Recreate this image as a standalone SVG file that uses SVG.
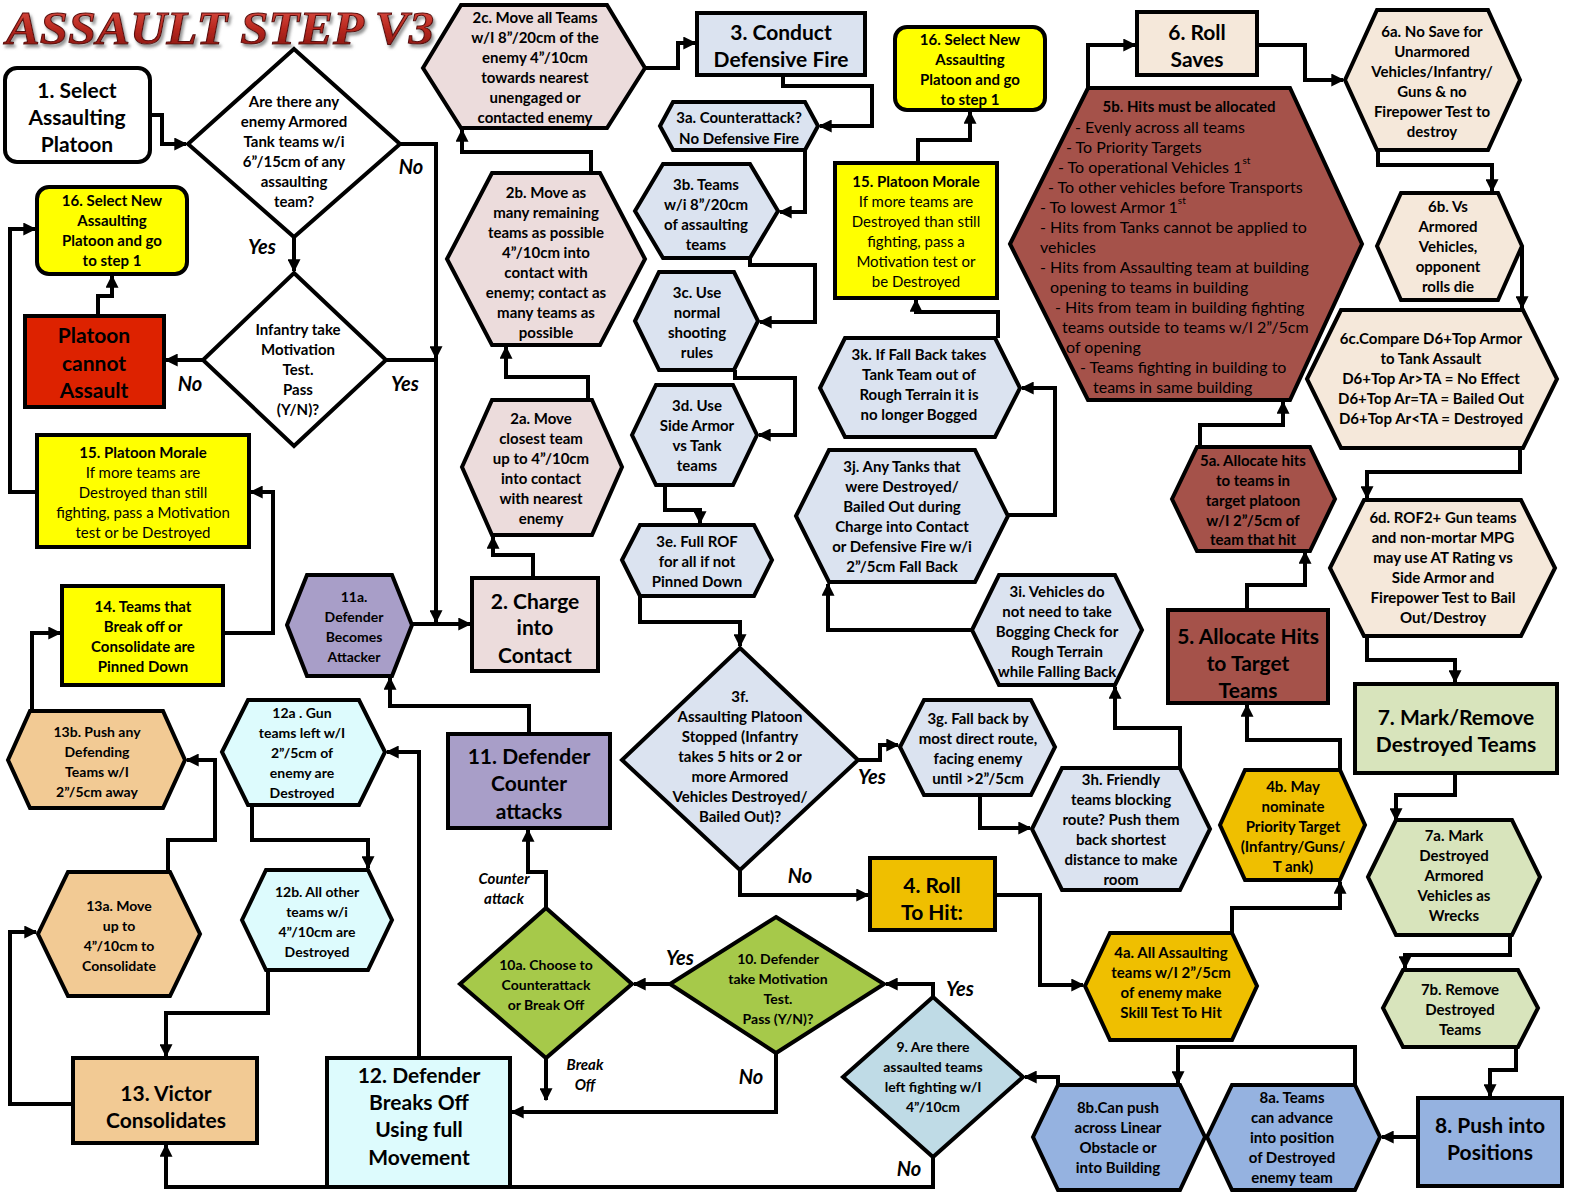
<svg xmlns="http://www.w3.org/2000/svg" width="1575" height="1200" viewBox="0 0 1575 1200">
<defs>
<marker id="a" viewBox="0 0 10 10" refX="9" refY="5" markerWidth="13" markerHeight="13" markerUnits="userSpaceOnUse" orient="auto"><path d="M0,0 L10,5 L0,10 z" fill="#000"/></marker>
<linearGradient id="tg" x1="0" y1="0" x2="0" y2="1"><stop offset="0" stop-color="#e0554a"/><stop offset="0.5" stop-color="#b8281f"/><stop offset="1" stop-color="#7e130e"/></linearGradient>
<filter id="sh" x="-5%" y="-20%" width="110%" height="150%"><feDropShadow dx="2" dy="3" stdDeviation="1.5" flood-color="#777" flood-opacity="0.8"/></filter>
<style>
.s{stroke:#000;stroke-width:4;stroke-linejoin:miter}
.w{fill:#fff}.y{fill:#ffff00}.rd{fill:#dd2200}.ro{fill:#ecdcdc}.bl{fill:#dbe3f0}
.br{fill:#a5524a}.be{fill:#f5e8da}.gr{fill:#d8e4bc}.pb{fill:#95b2e0}.go{fill:#efbf00}
.lb{fill:#bfdbe6}.ga{fill:#a6c94a}.cy{fill:#ddfbfd}.pu{fill:#a89ec8}.or{fill:#f2ca94}
text{font-family:Lato,"Liberation Sans",sans-serif;font-weight:700;font-size:15px;text-anchor:middle;dominant-baseline:central;fill:#000}
text.b{font-size:21px}
text.sm{font-size:14px}
text.l{font-style:italic;font-size:20px}
text.li{font-style:italic;font-size:15px}
.r{font-weight:400}
text.p{font-weight:400;font-size:16px;text-anchor:start}
text.ttl{font-family:"Liberation Serif",serif;font-style:italic;font-weight:700;font-size:46px;text-anchor:start;dominant-baseline:alphabetic;fill:url(#tg);stroke:#5a0d0a;stroke-width:1}
.c{fill:none;stroke:#000;stroke-width:4;marker-end:url(#a)}
</style>
</defs>
<rect width="1575" height="1200" fill="#fff"/>
<text class="ttl" x="6" y="44" textLength="428" lengthAdjust="spacingAndGlyphs" filter="url(#sh)">ASSAULT STEP V3</text>

<g id="connectors">
<path class="c" d="M150,115 H162 V144 H186"/>
<path class="c" d="M400,144 H436 V358"/>
<path class="c" d="M386,360 H436 V622"/>
<path class="c" d="M294,237 V271"/>
<path class="c" d="M203,360 H166"/>
<path class="c" d="M98,316 V296 H112 V276"/>
<path class="c" d="M37,492 H10 V229 H35"/>
<path class="c" d="M223,633 H273 V492 H251"/>
<path class="c" d="M32,711 V633 H60"/>
<path class="c" d="M168,872 V840 H215 V760 H187"/>
<path class="c" d="M73,1104 H10 V932 H36"/>
<path class="c" d="M933,1157 V1187 H166 V1145"/>
<path class="c" d="M268,970 V1013 H166 V1056"/>
<path class="c" d="M252,805 V840 H368 V868"/>
<path class="c" d="M419,1058 V752 H387"/>
<path class="c" d="M412,624 H470"/>
<path class="c" d="M529,734 V706 H390 V678"/>
<path class="c" d="M546,908 V872 H528 V830"/>
<path class="c" d="M546,1058 V1100"/>
<path class="c" d="M776,1053 V1112 H512"/>
<path class="c" d="M670,984 H634"/>
<path class="c" d="M933,997 V984 H886"/>
<path class="c" d="M1058,1085 V1077 H1025"/>
<path class="c" d="M1355,1085 V1047 H1178 V1083"/>
<path class="c" d="M1418,1137 H1382"/>
<path class="c" d="M1516,1047 V1070 H1490 V1096"/>
<path class="c" d="M1510,935 V955 H1405 V968"/>
<path class="c" d="M1455,773 V795 H1396 V820"/>
<path class="c" d="M1367,636 V660 H1455 V682"/>
<path class="c" d="M1520,448 V472 H1367 V498"/>
<path class="c" d="M1522,246 V308"/>
<path class="c" d="M1378,150 V165 H1492 V191"/>
<path class="c" d="M1257,45 H1305 V80 H1343"/>
<path class="c" d="M1088,88 V45 H1135"/>
<path class="c" d="M1200,447 V425 H1283 V402"/>
<path class="c" d="M1247,610 V585 H1305 V552"/>
<path class="c" d="M1340,770 V740 H1247 V705"/>
<path class="c" d="M1232,933 V908 H1340 V882"/>
<path class="c" d="M995,895 H1040 V985 H1083"/>
<path class="c" d="M740,870 V895 H868"/>
<path class="c" d="M858,760 H880 V745 H898"/>
<path class="c" d="M980,795 V828 H1030"/>
<path class="c" d="M1180,768 V728 H1115 V687"/>
<path class="c" d="M972,630 H828 V584"/>
<path class="c" d="M1008,515 H1055 V388 H1022"/>
<path class="c" d="M998,338 V312 H916 V300"/>
<path class="c" d="M918,163 V140 H970 V112"/>
<path class="c" d="M640,596 V622 H740 V646"/>
<path class="c" d="M665,485 V510 H700 V523"/>
<path class="c" d="M735,370 V378 H795 V435 H759"/>
<path class="c" d="M750,258 V265 H815 V322 H760"/>
<path class="c" d="M805,150 V212 H780"/>
<path class="c" d="M783,75 V86 H872 V126 H820"/>
<path class="c" d="M645,68 H678 V43 H695"/>
<path class="c" d="M591,173 V152 H462 V130"/>
<path class="c" d="M588,400 V377 H506 V347"/>
<path class="c" d="M533,578 V555 H493 V537"/>
</g>

<g id="labels">
<text class="l" x="411" y="166">No</text>
<text class="l" x="262" y="246">Yes</text>
<text class="l" x="190" y="383">No</text>
<text class="l" x="405" y="383">Yes</text>
<text class="l" x="872" y="776">Yes</text>
<text class="l" x="800" y="875">No</text>
<text class="l" x="680" y="957">Yes</text>
<text class="l" x="751" y="1076">No</text>
<text class="l" x="960" y="988">Yes</text>
<text class="l" x="909" y="1168">No</text>
<text class="li" x="504" y="878"><tspan x="504" y="878">Counter</tspan><tspan x="504" y="898">attack</tspan></text>
<text class="li" x="585" y="1064"><tspan x="585" y="1064">Break</tspan><tspan x="585" y="1084">Off</tspan></text>
</g>

<g id="n1"><rect class="s w" x="5" y="68" width="145" height="94" rx="12"/>
<text class="b"><tspan x="77" y="89">1. Select</tspan><tspan x="77" y="116">Assaulting</tspan><tspan x="77" y="143">Platoon</tspan></text></g>

<g id="d1"><polygon class="s w" points="294,49 400,144 294,237 188,144"/>
<text><tspan x="294" y="101">Are there any</tspan><tspan x="294" y="121">enemy Armored</tspan><tspan x="294" y="141">Tank teams w/i</tspan><tspan x="294" y="161">6”/15cm of any</tspan><tspan x="294" y="181">assaulting</tspan><tspan x="294" y="201">team?</tspan></text></g>

<g id="n16a"><rect class="s y" x="37" y="187" width="150" height="87" rx="12"/>
<text><tspan x="112" y="200">16. Select New</tspan><tspan x="112" y="220">Assaulting</tspan><tspan x="112" y="240">Platoon and go</tspan><tspan x="112" y="260">to step 1</tspan></text></g>

<g id="d2"><polygon class="s w" points="294,273 386,360 294,446 203,360"/>
<text><tspan x="298" y="329">Infantry take</tspan><tspan x="298" y="349">Motivation</tspan><tspan x="298" y="369">Test.</tspan><tspan x="298" y="389">Pass</tspan><tspan x="298" y="409">(Y/N)?</tspan></text></g>

<g id="nPCA"><rect class="s rd" x="25" y="316" width="139" height="91"/>
<text class="b"><tspan x="94" y="334">Platoon</tspan><tspan x="94" y="362">cannot</tspan><tspan x="94" y="389">Assault</tspan></text></g>

<g id="n15a"><rect class="s y" x="37" y="435" width="212" height="112"/>
<text><tspan x="143" y="452">15. Platoon Morale</tspan><tspan class="r" x="143" y="472">If more teams are</tspan><tspan class="r" x="143" y="492">Destroyed than still</tspan><tspan class="r" x="143" y="512">fighting, pass a Motivation</tspan><tspan class="r" x="143" y="532">test or be Destroyed</tspan></text></g>

<g id="n14"><rect class="s y" x="62" y="586" width="161" height="99"/>
<text><tspan x="143" y="606">14. Teams that</tspan><tspan x="143" y="626">Break off or</tspan><tspan x="143" y="646">Consolidate  are</tspan><tspan x="143" y="666">Pinned Down</tspan></text></g>

<g id="n13b"><polygon class="s or" points="8,760 30,711 163,711 185,760 163,808 30,808"/>
<text class="sm"><tspan x="97" y="731">13b. Push any</tspan><tspan x="97" y="751">Defending</tspan><tspan x="97" y="771">Teams w/I</tspan><tspan x="97" y="791">2”/5cm away</tspan></text></g>

<g id="n13a"><polygon class="s or" points="38,934 68,872 170,872 200,934 170,996 68,996"/>
<text class="sm"><tspan x="119" y="905">13a. Move</tspan><tspan x="119" y="925">up to</tspan><tspan x="119" y="945">4”/10cm to</tspan><tspan x="119" y="965">Consolidate</tspan></text></g>

<g id="n13"><rect class="s or" x="73" y="1058" width="184" height="85"/>
<text class="b"><tspan x="166" y="1092">13. Victor</tspan><tspan x="166" y="1119">Consolidates</tspan></text></g>

<g id="n12a"><polygon class="s cy" points="222,752 248,700 359,700 385,752 359,805 248,805"/>
<text class="sm"><tspan x="302" y="712">12a . Gun</tspan><tspan x="302" y="732">teams left w/I</tspan><tspan x="302" y="752">2”/5cm of</tspan><tspan x="302" y="772">enemy are</tspan><tspan x="302" y="792">Destroyed</tspan></text></g>

<g id="n12b"><polygon class="s cy" points="242,920 266,870 368,870 392,920 368,970 266,970"/>
<text class="sm"><tspan x="317" y="891">12b. All other</tspan><tspan x="317" y="911">teams w/i</tspan><tspan x="317" y="931">4”/10cm are</tspan><tspan x="317" y="951">Destroyed</tspan></text></g>

<g id="n12"><rect class="s cy" x="327" y="1058" width="183" height="129"/>
<text class="b"><tspan x="419" y="1074">12. Defender</tspan><tspan x="419" y="1101">Breaks Off</tspan><tspan x="419" y="1128">Using full</tspan><tspan x="419" y="1156">Movement</tspan></text></g>

<g id="n11a"><polygon class="s pu" points="287,625 307,575 392,575 412,625 392,676 307,676"/>
<text class="sm"><tspan x="354" y="596">11a.</tspan><tspan x="354" y="616">Defender</tspan><tspan x="354" y="636">Becomes</tspan><tspan x="354" y="656">Attacker</tspan></text></g>

<g id="n11"><rect class="s pu" x="448" y="734" width="162" height="94"/>
<text class="b"><tspan x="529" y="755">11. Defender</tspan><tspan x="529" y="782">Counter</tspan><tspan x="529" y="810">attacks</tspan></text></g>

<g id="d10a"><polygon class="s ga" points="546,908 632,984 546,1058 460,984"/>
<text class="sm"><tspan x="546" y="964">10a. Choose to</tspan><tspan x="546" y="984">Counterattack</tspan><tspan x="546" y="1004">or Break Off</tspan></text></g>

<g id="d10"><polygon class="s ga" points="776,917 884,984 776,1053 670,984"/>
<text class="sm"><tspan x="778" y="958">10. Defender</tspan><tspan x="778" y="978">take Motivation</tspan><tspan x="778" y="998">Test.</tspan><tspan x="778" y="1018">Pass (Y/N)?</tspan></text></g>

<g id="d9"><polygon class="s lb" points="933,997 1023,1077 933,1157 843,1077"/>
<text class="sm"><tspan x="933" y="1046">9. Are there</tspan><tspan x="933" y="1066">assaulted teams</tspan><tspan x="933" y="1086">left fighting w/I</tspan><tspan x="933" y="1106">4”/10cm</tspan></text></g>

<g id="n8b"><polygon class="s pb" points="1033,1137 1058,1085 1180,1085 1205,1137 1180,1190 1058,1190"/>
<text><tspan x="1118" y="1107">8b.Can push</tspan><tspan x="1118" y="1127">across Linear</tspan><tspan x="1118" y="1147">Obstacle or</tspan><tspan x="1118" y="1167">into Building</tspan></text></g>

<g id="n8a"><polygon class="s pb" points="1207,1137 1232,1085 1355,1085 1380,1137 1355,1190 1232,1190"/>
<text><tspan x="1292" y="1097">8a.  Teams</tspan><tspan x="1292" y="1117">can advance</tspan><tspan x="1292" y="1137">into position</tspan><tspan x="1292" y="1157">of Destroyed</tspan><tspan x="1292" y="1177">enemy team</tspan></text></g>

<g id="n8"><rect class="s pb" x="1418" y="1098" width="144" height="88"/>
<text class="b"><tspan x="1490" y="1124">8. Push into</tspan><tspan x="1490" y="1151">Positions</tspan></text></g>

<g id="n7b"><polygon class="s gr" points="1383,1008 1403,970 1518,970 1538,1008 1518,1047 1403,1047"/>
<text><tspan x="1460" y="989">7b. Remove</tspan><tspan x="1460" y="1009">Destroyed</tspan><tspan x="1460" y="1029">Teams</tspan></text></g>

<g id="n7a"><polygon class="s gr" points="1368,877 1396,820 1512,820 1540,877 1512,935 1396,935"/>
<text><tspan x="1454" y="835">7a. Mark</tspan><tspan x="1454" y="855">Destroyed</tspan><tspan x="1454" y="875">Armored</tspan><tspan x="1454" y="895">Vehicles as</tspan><tspan x="1454" y="915">Wrecks</tspan></text></g>

<g id="n7"><rect class="s gr" x="1355" y="684" width="202" height="89"/>
<text class="b"><tspan x="1456" y="716">7. Mark/Remove</tspan><tspan x="1456" y="743">Destroyed Teams</tspan></text></g>

<g id="n6d"><polygon class="s be" points="1330,568 1364,500 1521,500 1555,568 1521,636 1364,636"/>
<text><tspan x="1443" y="517">6d. ROF2+ Gun teams</tspan><tspan x="1443" y="537">and non-mortar  MPG</tspan><tspan x="1443" y="557">may use AT Rating vs</tspan><tspan x="1443" y="577">Side Armor and</tspan><tspan x="1443" y="597">Firepower Test to Bail</tspan><tspan x="1443" y="617">Out/Destroy</tspan></text></g>

<g id="n6c"><polygon class="s be" points="1307,379 1341,310 1523,310 1557,379 1523,448 1341,448"/>
<text><tspan x="1431" y="338">6c.Compare D6+Top Armor</tspan><tspan x="1431" y="358">to Tank Assault</tspan><tspan x="1431" y="378">D6+Top Ar&gt;TA = No Effect</tspan><tspan x="1431" y="398">D6+Top Ar=TA = Bailed Out</tspan><tspan x="1431" y="418">D6+Top Ar&lt;TA = Destroyed</tspan></text></g>

<g id="n6b"><polygon class="s be" points="1377,246 1401,193 1498,193 1522,246 1498,300 1401,300"/>
<text><tspan x="1448" y="206">6b. Vs</tspan><tspan x="1448" y="226">Armored</tspan><tspan x="1448" y="246">Vehicles,</tspan><tspan x="1448" y="266">opponent</tspan><tspan x="1448" y="286">rolls die</tspan></text></g>

<g id="n6a"><polygon class="s be" points="1345,80 1377,10 1488,10 1520,80 1488,150 1377,150"/>
<text><tspan x="1432" y="31">6a. No Save for</tspan><tspan x="1432" y="51">Unarmored</tspan><tspan x="1432" y="71">Vehicles/Infantry/</tspan><tspan x="1432" y="91">Guns &amp; no</tspan><tspan x="1432" y="111">Firepower Test to</tspan><tspan x="1432" y="131">destroy</tspan></text></g>

<g id="n6"><rect class="s be" x="1137" y="12" width="120" height="63"/>
<text class="b"><tspan x="1197" y="31">6. Roll</tspan><tspan x="1197" y="58">Saves</tspan></text></g>

<g id="n5b"><polygon class="s br" points="1010,244 1088,88 1290,88 1362,244 1290,400 1088,400"/>
<text><tspan x="1189" y="106">5b.  Hits must be allocated</tspan></text>
<text class="p"><tspan x="1075" y="126">- Evenly across all teams</tspan><tspan x="1066" y="146">- To Priority Targets</tspan><tspan x="1058" y="166">- To operational Vehicles 1<tspan font-size="10" dy="-6">st</tspan></tspan><tspan x="1048" y="186">- To other vehicles before Transports</tspan><tspan x="1040" y="206">- To lowest Armor 1<tspan font-size="10" dy="-6">st</tspan></tspan><tspan x="1040" y="226">- Hits from Tanks cannot be applied to</tspan><tspan x="1040" y="246">vehicles</tspan><tspan x="1040" y="266">- Hits from Assaulting team at building</tspan><tspan x="1046" y="286"> opening to teams in building</tspan><tspan x="1055" y="306">- Hits from team in building fighting</tspan><tspan x="1062" y="326">teams outside  to teams w/I 2”/5cm</tspan><tspan x="1066" y="346">of opening</tspan><tspan x="1080" y="366">- Teams fighting in building to</tspan><tspan x="1093" y="386">teams in same building</tspan></text></g>

<g id="n5a"><polygon class="s br" points="1172,499 1197,447 1310,447 1335,499 1310,551 1197,551"/>
<text><tspan x="1253" y="460">5a. Allocate hits</tspan><tspan x="1253" y="480">to teams in</tspan><tspan x="1253" y="500">target platoon</tspan><tspan x="1253" y="520">w/I 2”/5cm of</tspan><tspan x="1253" y="539">team that hit</tspan></text></g>

<g id="n5"><rect class="s br" x="1168" y="610" width="160" height="93"/>
<text class="b"><tspan x="1248" y="635">5. Allocate Hits</tspan><tspan x="1248" y="662">to Target</tspan><tspan x="1248" y="689">Teams</tspan></text></g>

<g id="n4b"><polygon class="s go" points="1220,825 1245,770 1340,770 1365,825 1340,880 1245,880"/>
<text><tspan x="1293" y="786">4b.  May</tspan><tspan x="1293" y="806">nominate</tspan><tspan x="1293" y="826">Priority Target</tspan><tspan x="1293" y="846">(Infantry/Guns/</tspan><tspan x="1293" y="866">T ank)</tspan></text></g>

<g id="n4a"><polygon class="s go" points="1085,986 1110,933 1232,933 1257,986 1232,1040 1110,1040"/>
<text><tspan x="1171" y="952">4a. All Assaulting</tspan><tspan x="1171" y="972">teams w/I 2”/5cm</tspan><tspan x="1171" y="992">of enemy make</tspan><tspan x="1171" y="1012">Skill Test To Hit</tspan></text></g>

<g id="n4"><rect class="s go" x="870" y="858" width="125" height="72"/>
<text class="b"><tspan x="932" y="884">4. Roll</tspan><tspan x="932" y="911">To Hit:</tspan></text></g>

<g id="d3f"><polygon class="s bl" points="740,648 858,760 740,870 622,760"/>
<text><tspan x="740" y="696">3f.</tspan><tspan x="740" y="716">Assaulting Platoon</tspan><tspan x="740" y="736">Stopped (Infantry</tspan><tspan x="740" y="756">takes 5 hits  or 2 or</tspan><tspan x="740" y="776">more Armored</tspan><tspan x="740" y="796">Vehicles Destroyed/</tspan><tspan x="740" y="816">Bailed Out)?</tspan></text></g>

<g id="n3g"><polygon class="s bl" points="900,747 924,700 1031,700 1055,747 1031,795 924,795"/>
<text><tspan x="978" y="718">3g.  Fall back by</tspan><tspan x="978" y="738">most direct route,</tspan><tspan x="978" y="758">facing enemy</tspan><tspan x="978" y="778">until &gt;2”/5cm</tspan></text></g>

<g id="n3h"><polygon class="s bl" points="1032,829 1062,768 1180,768 1210,829 1180,890 1062,890"/>
<text><tspan x="1121" y="779">3h. Friendly</tspan><tspan x="1121" y="799">teams blocking</tspan><tspan x="1121" y="819">route?  Push them</tspan><tspan x="1121" y="839">back shortest</tspan><tspan x="1121" y="859">distance to make</tspan><tspan x="1121" y="879">room</tspan></text></g>

<g id="n3i"><polygon class="s bl" points="972,630 999,575 1115,575 1142,630 1115,685 999,685"/>
<text><tspan x="1057" y="591">3i.  Vehicles do</tspan><tspan x="1057" y="611">not need to take</tspan><tspan x="1057" y="631">Bogging Check for</tspan><tspan x="1057" y="651">Rough Terrain</tspan><tspan x="1057" y="671">while Falling Back</tspan></text></g>

<g id="n3j"><polygon class="s bl" points="796,516 829,450 975,450 1008,516 975,582 829,582"/>
<text><tspan x="902" y="466">3j.  Any Tanks that</tspan><tspan x="902" y="486">were Destroyed/</tspan><tspan x="902" y="506">Bailed Out during</tspan><tspan x="902" y="526">Charge into Contact</tspan><tspan x="902" y="546">or Defensive Fire w/i</tspan><tspan x="902" y="566">2”/5cm Fall Back</tspan></text></g>

<g id="n3k"><polygon class="s bl" points="820,388 845,338 995,338 1020,388 995,437 845,437"/>
<text><tspan x="919" y="354">3k. If Fall Back takes</tspan><tspan x="919" y="374">Tank Team out of</tspan><tspan x="919" y="394">Rough Terrain it is</tspan><tspan x="919" y="414">no longer Bogged</tspan></text></g>

<g id="n15b"><rect class="s y" x="835" y="163" width="162" height="135"/>
<text><tspan x="916" y="181">15. Platoon Morale</tspan><tspan class="r" x="916" y="201">If more teams are</tspan><tspan class="r" x="916" y="221">Destroyed than still</tspan><tspan class="r" x="916" y="241">fighting, pass a</tspan><tspan class="r" x="916" y="261">Motivation test or</tspan><tspan class="r" x="916" y="281">be Destroyed</tspan></text></g>

<g id="n16b"><rect class="s y" x="895" y="27" width="150" height="83" rx="12"/>
<text><tspan x="970" y="39">16. Select New</tspan><tspan x="970" y="59">Assaulting</tspan><tspan x="970" y="79">Platoon and go</tspan><tspan x="970" y="99">to step 1</tspan></text></g>

<g id="n3e"><polygon class="s bl" points="622,560 640,525 754,525 772,560 754,596 640,596"/>
<text><tspan x="697" y="541">3e.  Full ROF</tspan><tspan x="697" y="561">for all if not</tspan><tspan x="697" y="581">Pinned Down</tspan></text></g>

<g id="n3d"><polygon class="s bl" points="632,435 656,385 733,385 757,435 733,485 656,485"/>
<text><tspan x="697" y="405">3d. Use</tspan><tspan x="697" y="425">Side Armor</tspan><tspan x="697" y="445">vs Tank</tspan><tspan x="697" y="465">teams</tspan></text></g>

<g id="n3c"><polygon class="s bl" points="635,321 659,272 734,272 758,321 734,370 659,370"/>
<text><tspan x="697" y="292">3c.  Use</tspan><tspan x="697" y="312">normal</tspan><tspan x="697" y="332">shooting</tspan><tspan x="697" y="352">rules</tspan></text></g>

<g id="n3b"><polygon class="s bl" points="635,211 663,164 750,164 778,211 750,258 663,258"/>
<text><tspan x="706" y="184">3b.  Teams</tspan><tspan x="706" y="204">w/i 8”/20cm</tspan><tspan x="706" y="224">of assaulting</tspan><tspan x="706" y="244">teams</tspan></text></g>

<g id="n3a"><polygon class="s bl" points="660,126 673,102 805,102 818,126 805,150 673,150"/>
<text><tspan x="739" y="117">3a. Counterattack?</tspan><tspan x="739" y="138">No Defensive Fire</tspan></text></g>

<g id="n3"><rect class="s bl" x="697" y="13" width="168" height="62"/>
<text class="b"><tspan x="781" y="31">3. Conduct</tspan><tspan x="781" y="58">Defensive Fire</tspan></text></g>

<g id="n2c"><polygon class="s ro" points="423,68 461,5 607,5 645,68 607,128 461,128"/>
<text><tspan x="535" y="17">2c.  Move all Teams</tspan><tspan x="535" y="37">w/I 8”/20cm of the</tspan><tspan x="535" y="57">enemy 4”/10cm</tspan><tspan x="535" y="77">towards nearest</tspan><tspan x="535" y="97">unengaged  or</tspan><tspan x="535" y="117">contacted enemy</tspan></text></g>

<g id="n2b"><polygon class="s ro" points="447,259 492,173 600,173 645,259 600,345 492,345"/>
<text><tspan x="546" y="192">2b.  Move as</tspan><tspan x="546" y="212">many remaining</tspan><tspan x="546" y="232">teams as possible</tspan><tspan x="546" y="252">4”/10cm into</tspan><tspan x="546" y="272">contact  with</tspan><tspan x="546" y="292">enemy; contact as</tspan><tspan x="546" y="312">many teams as</tspan><tspan x="546" y="332">possible</tspan></text></g>

<g id="n2a"><polygon class="s ro" points="462,467 492,400 592,400 622,467 592,535 492,535"/>
<text><tspan x="541" y="418">2a. Move</tspan><tspan x="541" y="438">closest team</tspan><tspan x="541" y="458">up to 4”/10cm</tspan><tspan x="541" y="478">into contact</tspan><tspan x="541" y="498">with nearest</tspan><tspan x="541" y="518">enemy</tspan></text></g>

<g id="n2"><rect class="s ro" x="472" y="578" width="126" height="93"/>
<text class="b"><tspan x="535" y="600">2. Charge</tspan><tspan x="535" y="626">into</tspan><tspan x="535" y="654">Contact</tspan></text></g>
</svg>
